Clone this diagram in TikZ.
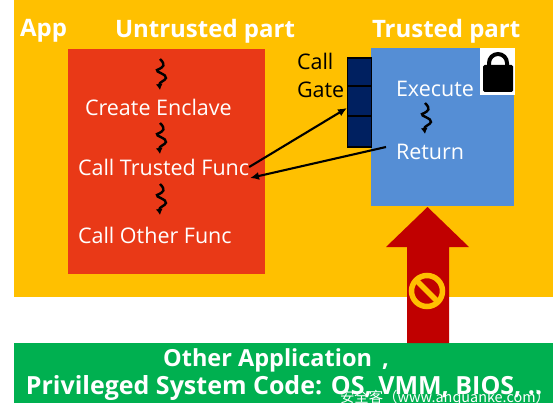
\documentclass[tikz,border=0pt]{standalone}
\usepackage{fontspec}
\setmainfont{Open Sans}
\newfontfamily\cjkfont{Noto Sans CJK SC}
\usetikzlibrary{arrows.meta}
\definecolor{appyellow}{HTML}{FFC000}
\definecolor{untrustred}{HTML}{E93917}
\definecolor{trustblue}{HTML}{558ED5}
\definecolor{gatenavy}{HTML}{002060}
\definecolor{otheredgreen}{HTML}{00B050}
\definecolor{attackred}{HTML}{C00000}
\begin{document}
\begin{tikzpicture}[x=1pt, y=-1pt, >={Latex[length=9pt,width=8pt]},
      every node/.style={inner sep=0pt, outer sep=0pt},
      region/.style={draw=none, anchor=north west},
      title/.style={text=white, font=\fontsize{24}{28}\selectfont\bfseries},
      step label/.style={text=white, font=\fontsize{21.5}{25}\selectfont, anchor=west},
      gatecell/.style={draw=black, line width=1.8pt, fill=gatenavy, minimum width=24pt, anchor=north},
      flow/.style={->, black, line width=2.1pt},
      squig/.pic={\draw[black, line width=2.4pt, -{Latex[length=6pt,width=7pt]}] (-1,-15)
        .. controls (5,-9) and (3,-7) .. (-4,-4) .. controls (-6,-2) and (6,0) .. (5,4)
        .. controls (4,7) and (-2,8) .. (-1,16);}]
    \useasboundingbox (0,0) rectangle (556,417);
    \node[region, fill=appyellow, minimum width=539pt, minimum height=297pt] (app) at (14,0) {};
    \node[region, fill=otheredgreen, minimum width=539pt, minimum height=60pt] (other) at (14,343) {};
    \node[region, fill=untrustred, minimum width=197pt, minimum height=225pt] (untrusted) at (68,49) {};
    \node[region, fill=trustblue, minimum width=143pt, minimum height=158pt] (trusted) at (371,48) {};
    % titles
    \node[title, anchor=west] (apptitle) at (20,31) {App};
    \node[title, anchor=west] (untitle) at (115,31) {Untrusted part};
    \node[title, anchor=west] (trtitle) at (372,31) {Trusted part};
    % untrusted side
    \pic at (161,74) {squig};
    \node[step label] (create) at (85,107) {Create Enclave};
    \pic at (161,138) {squig};
    \node[step label] (callfunc) at (78,167) {Call Trusted Func};
    \pic at (161,199) {squig};
    \node[step label] (callother) at (78,235) {Call Other Func};
    % trusted side
    \node[step label] (execute) at (396,89) {Execute};
    \pic at (426,118) {squig};
    \node[step label] (ret) at (396,152) {Return};
    % call gate
    \node[text=black, font=\fontsize{21.5}{25}\selectfont, anchor=west] (calltxt) at (297,61) {Call};
    \node[text=black, font=\fontsize{21.5}{25}\selectfont, anchor=west] (gatetxt) at (297,90) {Gate};
    \node[gatecell, minimum height=28pt] (gatea) at (359.5,58) {};
    \node[gatecell, minimum height=30pt] (gateb) at (359.5,86) {};
    \node[gatecell, minimum height=31pt] (gatec) at (359.5,116) {};
    \coordinate (gatein) at (347,108);
    \coordinate (retin) at (250,178);
    \coordinate (retout) at (386,147);
    \draw[flow] (callfunc.east) -- (gatein);
    \draw[flow] (retout) -- (retin);
    % lock
    \node[region, fill=white, minimum width=35pt, minimum height=47pt] (lockbg) at (480,48) {};
    \draw[black, line width=4pt] (489,72) -- (489,63) arc[start angle=180, end angle=0, x radius=9, y radius=-9] -- (507,72);
    \node[region, fill=black, rounded corners=1.5pt, minimum width=30pt, minimum height=27pt] (lockbody) at (483,65) {};
    % attack arrow
    \fill[attackred] (407,343) -- (407,247) -- (386,247) -- (427.5,207) -- (469,247) -- (449,247) -- (449,343) -- cycle;
    \node[circle, draw=appyellow, line width=5.5pt, minimum size=31pt] (nosign) at (427,291) {};
    \draw[appyellow, line width=5.5pt] (nosign.north west) -- (nosign.south east);
    % bottom
    \node[text=white, font=\fontsize{23.5}{28}\selectfont\bfseries] (othertxt) at (276,360) {Other Application \,,};
    \node[text=white, font=\fontsize{25}{28}\selectfont\bfseries] (privtxt) at (284,388) {Privileged System Code: OS, VMM, BIOS, ..};
    \node[text=white, font=\fontsize{14.4}{16}\cjkfont, anchor=west] (mark) at (340,398) {安全客（www.anquanke.com）};
\end{tikzpicture}
\end{document}
